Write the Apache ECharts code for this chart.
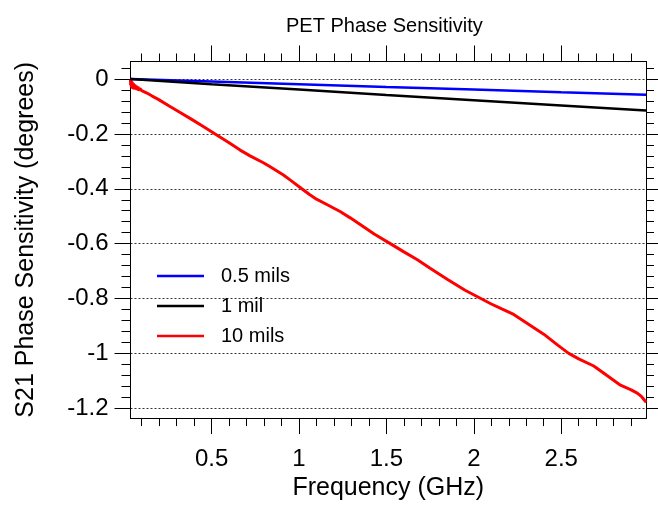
<!DOCTYPE html>
<html>
<head>
<meta charset="utf-8">
<script src="https://cdn.jsdelivr.net/npm/echarts@6/dist/echarts.min.js"></script>
<style>
html,body{margin:0;padding:0;background:#fff;}
#chart{width:658px;height:506px;}
</style>
</head>
<body>
<div id="chart"></div>
<script>
// ---- data ----
const seriesNames = ['0.5 mils', '1 mil', '10 mils'];
const freq05 = [0.036, 0.5, 1.0, 1.5, 2.0, 2.5, 2.985];
const val05 = [0, -0.009, -0.019, -0.029, -0.038, -0.048, -0.057];
const freq1 = [0.036, 0.5, 1.0, 1.5, 2.0, 2.5, 2.985];
const val1 = [0, -0.019, -0.038, -0.058, -0.077, -0.096, -0.115];
const freq10 = [0.036, 0.037, 0.039, 0.041, 0.043, 0.045, 0.047, 0.05, 0.053, 0.056, 0.06, 0.064, 0.068, 0.073, 0.078, 0.084, 0.09, 0.1, 0.13, 0.16, 0.195, 0.262, 0.32, 0.386, 0.45, 0.52, 0.6, 0.663, 0.72, 0.796, 0.835, 0.911, 0.96, 1.016, 1.06, 1.10, 1.17, 1.235, 1.293, 1.35, 1.43, 1.522, 1.6, 1.675, 1.75, 1.85, 1.95, 2.04, 2.1, 2.16, 2.228, 2.3, 2.4, 2.48, 2.543, 2.6, 2.686, 2.76, 2.839, 2.9, 2.935, 2.96, 2.986];
const val10 = [-0.002, -0.022, -0.004, -0.03, -0.008, -0.033, -0.012, -0.036, -0.016, -0.038, -0.02, -0.036, -0.024, -0.04, -0.028, -0.042, -0.034, -0.042, -0.051, -0.062, -0.074, -0.1, -0.122, -0.147, -0.172, -0.2, -0.232, -0.259, -0.28, -0.305, -0.32, -0.35, -0.373, -0.4, -0.421, -0.438, -0.461, -0.483, -0.506, -0.53, -0.565, -0.6, -0.63, -0.658, -0.69, -0.731, -0.77, -0.8, -0.82, -0.838, -0.858, -0.888, -0.93, -0.97, -1.0, -1.02, -1.046, -1.08, -1.116, -1.133, -1.145, -1.158, -1.178];
const xMajorTicks = [0.5, 1, 1.5, 2, 2.5];
const xMinorTicks = [0.1, 0.2, 0.3, 0.4, 0.6, 0.7, 0.8, 0.9, 1.1, 1.2, 1.3, 1.4, 1.6, 1.7, 1.8, 1.9, 2.1, 2.2, 2.3, 2.4, 2.6, 2.7, 2.8, 2.9];
const yMajorTicks = [0, -0.2, -0.4, -0.6, -0.8, -1, -1.2];
const yMinorTicks = [0.04, -0.04, -0.08, -0.12, -0.16, -0.24, -0.28, -0.32, -0.36, -0.44, -0.48, -0.52, -0.56, -0.64, -0.68, -0.72, -0.76, -0.84, -0.88, -0.92, -0.96, -1.04, -1.08, -1.12, -1.16, -1.24];

const X_MIN = 0.036, X_MAX = 2.985, Y_MIN = -1.236, Y_MAX = 0.064;
const FONT = 'Liberation Sans, Arial, sans-serif';

function zip(a, b) { return a.map((v, i) => [v, b[i]]); }

function xAxisDef(pos, ticks, len, withLabels) {
  return {
    type: 'value', position: pos, min: X_MIN, max: X_MAX,
    axisLine: { show: true, onZero: false, lineStyle: { color: '#000', width: 1 } },
    axisTick: { show: true, inside: false, length: len, customValues: ticks, lineStyle: { color: '#000', width: 1 } },
    axisLabel: withLabels ? { show: true, customValues: ticks, fontSize: 24, fontFamily: FONT, color: '#000', margin: 29 } : { show: false },
    splitLine: { show: false },
    minorTick: { show: false },
    name: withLabels ? 'Frequency (GHz)' : '',
    nameLocation: 'middle', nameGap: 57,
    nameTextStyle: { fontSize: 25, fontFamily: FONT, color: '#000' }
  };
}
function yAxisDef(pos, ticks, len, withLabels, grid) {
  return {
    type: 'value', position: pos, min: Y_MIN, max: Y_MAX,
    axisLine: { show: true, onZero: false, lineStyle: { color: '#000', width: 1 } },
    axisTick: { show: true, inside: false, length: len, customValues: ticks, lineStyle: { color: '#000', width: 1 } },
    axisLabel: withLabels ? { show: true, customValues: ticks, fontSize: 24, fontFamily: FONT, color: '#000', margin: 22 } : { show: false },
    splitLine: grid ? { show: true, lineStyle: { color: '#333', width: 1, type: [2, 2] } } : { show: false },
    minorTick: { show: false },
    name: withLabels ? 'S21 Phase Sensitivity (degrees)' : '',
    nameLocation: 'middle', nameGap: 92, nameRotate: 90,
    nameTextStyle: { fontSize: 25, fontFamily: FONT, color: '#000' }
  };
}

const chart = echarts.init(document.getElementById('chart'), null, { renderer: 'canvas' });
chart.setOption({
  animation: false,
  backgroundColor: '#fff',
  title: {
    text: 'PET Phase Sensitivity', left: 286, top: 16, padding: 0,
    textStyle: { fontSize: 20, fontWeight: 'normal', fontFamily: FONT, color: '#000' }
  },
  legend: {
    orient: 'vertical', left: 157, top: 266, padding: 0,
    itemWidth: 47, itemHeight: 2.5, itemGap: 10,
    icon: 'rect',
    textStyle: { fontSize: 20, fontFamily: FONT, color: '#000', lineHeight: 20, padding: [0, 0, 0, 12] },
    data: seriesNames
  },
  grid: { left: 130.5, right: 12, top: 61.5, bottom: 86.5, containLabel: false },
  xAxis: [
    xAxisDef('bottom', xMajorTicks, 16, true),
    xAxisDef('bottom', xMinorTicks, 8, false),
    xAxisDef('top', xMajorTicks, 16, false),
    xAxisDef('top', xMinorTicks, 8, false)
  ],
  yAxis: [
    yAxisDef('left', yMajorTicks, 16, true, true),
    yAxisDef('left', yMinorTicks, 9, false, false),
    yAxisDef('right', yMajorTicks, 16, false, false),
    yAxisDef('right', yMinorTicks, 8, false, false)
  ],
  series: [
    { name: seriesNames[0], type: 'line', data: zip(freq05, val05), showSymbol: false, symbol: 'none',
      lineStyle: { color: '#0000ff', width: 2.5 }, itemStyle: { color: '#0000ff' }, z: 3 },
    { name: seriesNames[1], type: 'line', data: zip(freq1, val1), showSymbol: false, symbol: 'none',
      lineStyle: { color: '#000000', width: 2.5 }, itemStyle: { color: '#000000' }, z: 3 },
    { name: seriesNames[2], type: 'line', data: zip(freq10, val10), showSymbol: false, symbol: 'none',
      lineStyle: { color: '#ff0000', width: 3 }, itemStyle: { color: '#ff0000' }, z: 2 }
  ]
});
</script>
</body>
</html>
